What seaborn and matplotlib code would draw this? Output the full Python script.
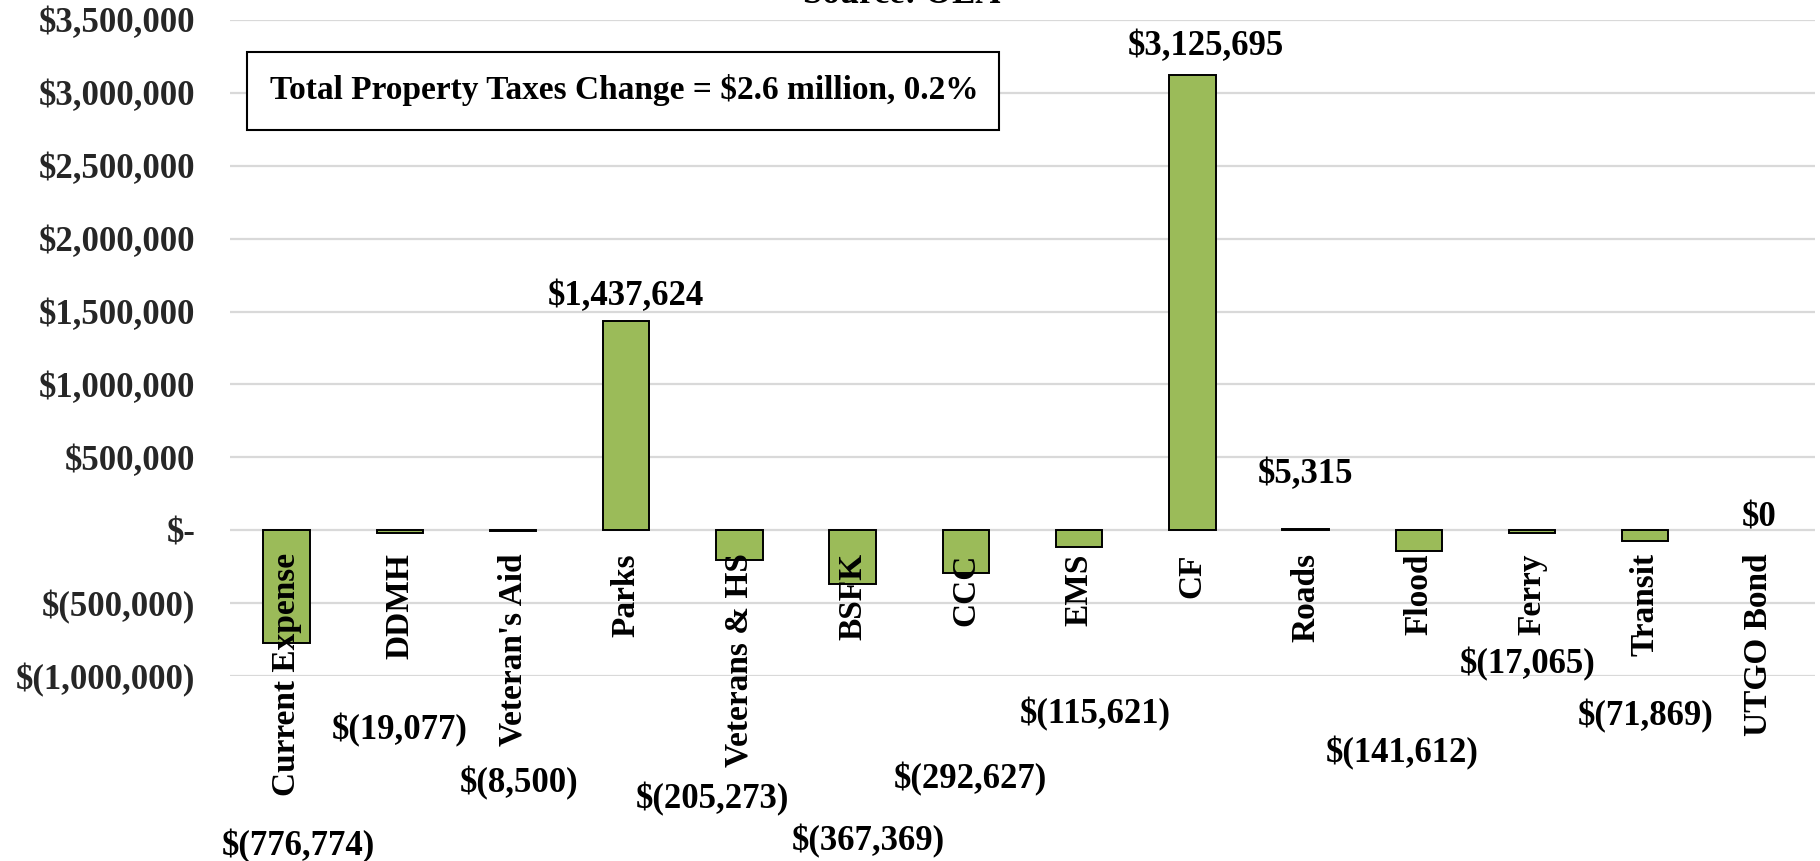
import matplotlib
matplotlib.use("Agg")
import matplotlib.pyplot as plt
from matplotlib.patches import Rectangle
from matplotlib.ticker import FuncFormatter
import seaborn as sns
import pandas as pd

# Property tax change by fund
categories = ["Current Expense", "DDMH", "Veteran's Aid", "Parks", "Veterans & HS",
              "BSFK", "CCC", "EMS", "CF", "Roads", "Flood", "Ferry", "Transit", "UTGO Bond"]
changes = [-776774, -19077, -8500, 1437624, -205273, -367369, -292627, -115621,
           3125695, 5315, -141612, -17065, -71869, 0]

y_ticks = [-1000000, -500000, 0, 500000, 1000000, 1500000, 2000000, 2500000, 3000000, 3500000]
summary_text = "Total Property Taxes Change = $2.6 million, 0.2%"
source_text = "Source: OEA"

# Where each value label sits: horizontal shift (in category widths) and vertical position (data units)
label_dx = [0.10, 0.0, 0.05, 0.0, -0.24, 0.14, 0.04, 0.14, 0.12, 0.0, -0.15, -0.04, 0.0, 0.01]
label_y = [-2167000, -1369000, -1733000, 1603000, -1847000, -2132000, -1711000, -1264000,
           3319000, 381000, -1527000, -920000, -1279000, 86000]

BAR_GREEN = "#9BBB59"
GRID_GRAY = "#D9D9D9"
FONT = ["Liberation Serif", "DejaVu Serif"]
FS_CAT = 24
FS_NUM = 25


def accounting(v):
    if v == 0:
        return "$-"
    if v < 0:
        return f"$({abs(v):,.0f})"
    return f"${v:,.0f}"


def value_label(v):
    if v < 0:
        return f"$({abs(v):,.0f})"
    return f"${v:,.0f}"


sns.set_theme(style="white")
plt.rcParams["font.family"] = FONT
plt.rcParams["font.weight"] = "bold"

W, H = 1820, 861
fig = plt.figure(figsize=(W / 100, H / 100), dpi=100)
ax = fig.add_axes([230 / W, 1 - 676 / H, (1815 - 230) / W, (676 - 20) / H])

df = pd.DataFrame({"fund": categories, "change": changes})
sns.barplot(data=df, x="fund", y="change", color=BAR_GREEN, saturation=1,
            edgecolor="black", linewidth=1.4, width=0.41, ax=ax)
# a bar with no height shows no outline
for bar in ax.patches:
    if bar.get_height() == 0:
        bar.set_linewidth(0)

ax.set_xlim(-0.5, len(categories) - 0.5)
ax.set_ylim(y_ticks[0], y_ticks[-1])
ax.set_yticks(y_ticks)
ax.yaxis.set_major_formatter(FuncFormatter(lambda v, p: accounting(v)))
ax.set_axisbelow(True)
ax.yaxis.grid(True, color=GRID_GRAY, linewidth=1.6)
ax.xaxis.grid(False)
for s in ax.spines.values():
    s.set_visible(False)
ax.set_xticks([])
ax.set_xlabel("")
ax.set_ylabel("")
ax.tick_params(axis="y", length=0, pad=25, labelsize=FS_NUM)
for t in ax.get_yticklabels():
    t.set_fontweight("bold")
    t.set_family(FONT)

# Category names hang just below the zero line
for i, name in enumerate(categories):
    ax.annotate(name, xy=(i, 0), xytext=(0, -23), textcoords="offset pixels",
                rotation=90, ha="center", va="top", fontsize=FS_CAT, fontweight="bold",
                family=FONT, color="black", annotation_clip=False)

# Value labels
for i, v in enumerate(changes):
    ax.text(i + label_dx[i], label_y[i], value_label(v), ha="center", va="center",
            fontsize=FS_NUM, fontweight="bold", family=FONT, color="black", clip_on=False)

# Summary box
ax.add_patch(Rectangle((0.0107, 0.832), 0.4745, 0.119, transform=ax.transAxes,
                       facecolor="white", edgecolor="black", linewidth=1.5, zorder=5))
ax.text(0.0255, 0.893, summary_text, transform=ax.transAxes, ha="left", va="center",
        fontsize=24, fontweight="bold", family=FONT, color="black", zorder=6)

# Source line, partly above the top edge
fig.text(902 / W, 1 - 3 / H, source_text, ha="center", va="baseline",
         fontsize=FS_NUM, fontweight="bold", family=FONT, color="black")

fig.savefig("out.png", dpi=100, facecolor="white")
